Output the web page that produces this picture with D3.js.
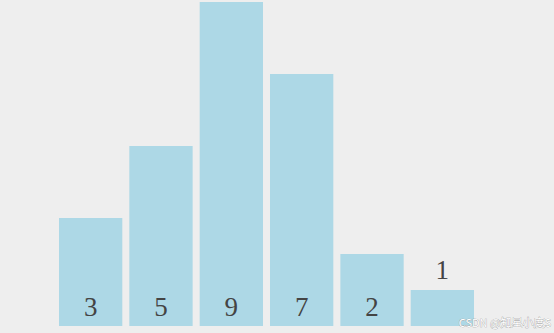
<!DOCTYPE html>
<html>
<head>
<meta charset="utf-8">
<script src="https://cdn.jsdelivr.net/npm/d3@7"></script>
<style>
  html, body { margin: 0; padding: 0; background: #eeeeee; }
  svg { display: block; }
</style>
</head>
<body>
<div id="chart"></div>
<script>
const categories = ['a', 'b', 'c', 'd', 'e', 'f'];
const values = [3, 5, 9, 7, 2, 1];

const width = 554;
const height = 333;

const svg = d3.select('#chart')
  .append('svg')
  .attr('width', width)
  .attr('height', height);

const x = d3.scaleBand()
  .domain(categories)
  .range([59, 474])
  .paddingInner(0.1)
  .paddingOuter(0);

const y = d3.scaleLinear()
  .domain([0, 9])
  .range([326, 2]);

const data = categories.map((c, i) => ({ c, v: values[i] }));

svg.append('g')
  .attr('fill', '#add8e6')
  .selectAll('rect')
  .data(data)
  .join('rect')
  .attr('x', d => x(d.c))
  .attr('y', d => y(d.v))
  .attr('width', x.bandwidth())
  .attr('height', d => y(0) - y(d.v));

// labels sit near the bottom, or above the bar if it's too short
svg.append('g')
  .attr('font-family', '"Liberation Serif", "DejaVu Serif", serif')
  .attr('font-size', 27)
  .attr('fill', '#444')
  .attr('text-anchor', 'middle')
  .selectAll('text')
  .data(data)
  .join('text')
  .attr('x', d => x(d.c) + x.bandwidth() / 2)
  .attr('y', d => (y(0) - y(d.v) < 40) ? y(d.v) - 11 : y(0) - 10)
  .text(d => d.v);

svg.append('text')
  .attr('x', 551)
  .attr('y', 327)
  .attr('text-anchor', 'end')
  .attr('font-family', '"Noto Sans CJK SC", sans-serif')
  .attr('font-size', 11)
  .attr('fill', '#ffffff')
  .attr('stroke', '#999')
  .attr('stroke-width', 0.6)
  .attr('paint-order', 'stroke')
  .text('CSDN @知星小度S');
</script>
</body>
</html>
